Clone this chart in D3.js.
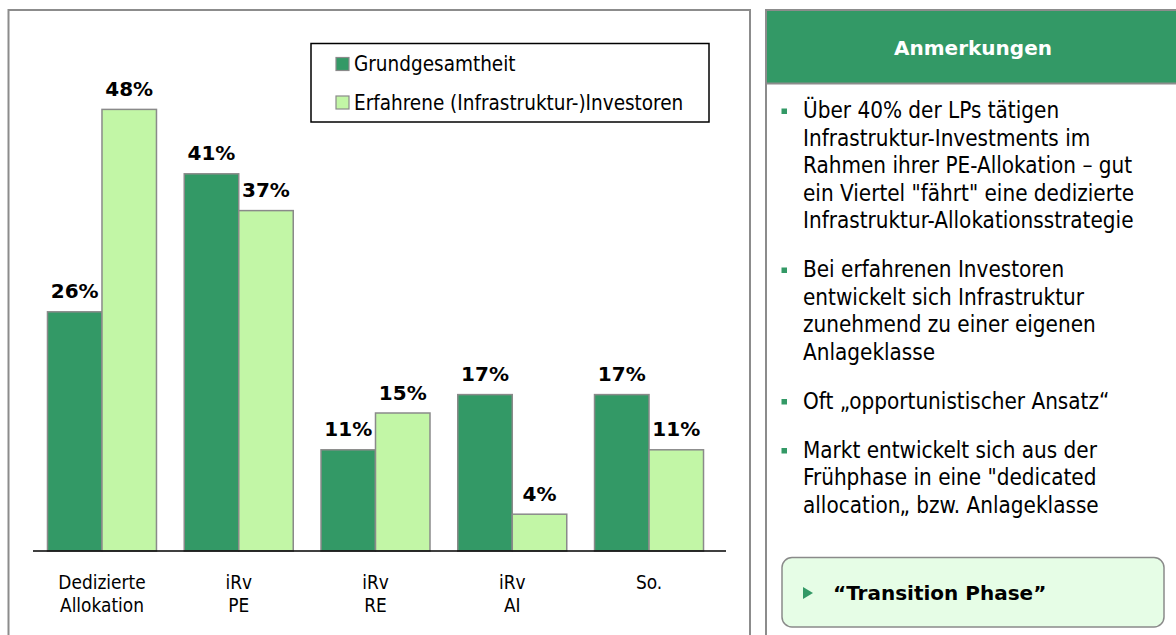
<!DOCTYPE html>
<html>
<head>
<meta charset="utf-8">
<script src="https://cdn.jsdelivr.net/npm/d3@7"></script>
<style>
  html, body { margin: 0; padding: 0; background: #fff; }
  svg { display: block; }
</style>
</head>
<body>
<svg id="chart" width="1176" height="635"></svg>
<script>
// ---- data ----
const categories = ["Dedizierte Allokation", "iRv PE", "iRv RE", "iRv AI", "So."];
const categoryLines = [["Dedizierte", "Allokation"], ["iRv", "PE"], ["iRv", "RE"], ["iRv", "AI"], ["So."]];
const seriesNames = ["Grundgesamtheit", "Erfahrene (Infrastruktur-)Investoren"];
const grundgesamtheit = [26, 41, 11, 17, 17];
const erfahrene = [48, 37, 15, 4, 11];
const notesTitle = "Anmerkungen";
const notes = [
  ["Über 40% der LPs tätigen", "Infrastruktur-Investments im", "Rahmen ihrer PE-Allokation – gut", "ein Viertel \"fährt\" eine dedizierte", "Infrastruktur-Allokationsstrategie"],
  ["Bei erfahrenen Investoren", "entwickelt sich Infrastruktur", "zunehmend zu einer eigenen", "Anlageklasse"],
  ["Oft „opportunistischer Ansatz“"],
  ["Markt entwickelt sich aus der", "Frühphase in eine \"dedicated", "allocation„ bzw. Anlageklasse"]
];
const conclusion = "“Transition Phase”";

// ---- style ----
const darkGreen = "#339966";
const lightGreen = "#c2f6a6";
const barStroke = "#8a8a8a";
const panelStroke = "#8c8c8c";
const condensed = "'DejaVu Sans Condensed', 'DejaVu Sans', sans-serif";
const regular = "'DejaVu Sans', sans-serif";

const svg = d3.select("#chart");

// ---- panels ----
svg.append("rect").attr("x", 8.5).attr("y", 10).attr("width", 741.5).attr("height", 640)
  .attr("fill", "#fff").attr("stroke", panelStroke).attr("stroke-width", 2);
svg.append("rect").attr("x", 766).attr("y", 10).attr("width", 420).attr("height", 640)
  .attr("fill", "#fff").attr("stroke", panelStroke).attr("stroke-width", 2);
svg.append("rect").attr("x", 766).attr("y", 10).attr("width", 420).attr("height", 73.5)
  .attr("fill", darkGreen).attr("stroke", panelStroke).attr("stroke-width", 2);
svg.append("text").attr("x", 973).attr("y", 55).attr("text-anchor", "middle")
  .attr("font-family", regular).attr("font-weight", "bold").attr("font-size", 20)
  .attr("fill", "#fff").text(notesTitle);

// ---- chart ----
const x0 = d3.scaleBand().domain(categories).range([33.6, 717.4]).paddingInner(0.203).paddingOuter(0.1015);
const x1 = d3.scaleBand().domain(seriesNames).range([0, x0.bandwidth()]);
const y = d3.scaleLinear().domain([0, 50]).range([551, 91]);

const data = categories.map((c, i) => ({ cat: c, vals: [grundgesamtheit[i], erfahrene[i]] }));
const colors = [darkGreen, lightGreen];

const groups = svg.append("g").selectAll("g").data(data).join("g")
  .attr("transform", d => `translate(${x0(d.cat)},0)`);

groups.selectAll("rect").data(d => d.vals.map((v, j) => ({ v, j }))).join("rect")
  .attr("x", d => x1(seriesNames[d.j]))
  .attr("y", d => y(d.v))
  .attr("width", x1.bandwidth())
  .attr("height", d => y(0) - y(d.v))
  .attr("fill", d => colors[d.j])
  .attr("stroke", barStroke).attr("stroke-width", 1.5);

groups.selectAll("text.val").data(d => d.vals.map((v, j) => ({ v, j }))).join("text")
  .attr("class", "val")
  .attr("x", d => x1(seriesNames[d.j]) + x1.bandwidth() / 2)
  .attr("y", d => y(d.v) - 13.5)
  .attr("text-anchor", "middle")
  .attr("font-family", regular).attr("font-weight", "bold").attr("font-size", 20)
  .attr("fill", "#000")
  .text(d => d.v + "%");

// baseline
svg.append("line").attr("x1", 33).attr("x2", 726).attr("y1", y(0)).attr("y2", y(0))
  .attr("stroke", "#000").attr("stroke-width", 1.5);

// category labels
const xAxis = d3.axisBottom(x0).tickSize(0).tickFormat("");
const axisG = svg.append("g").attr("transform", `translate(0,${y(0)})`).call(xAxis);
axisG.select(".domain").remove();
axisG.selectAll(".tick").each(function(d, i) {
  const t = d3.select(this).append("text")
    .attr("transform", "scale(0.97,1)")
    .attr("text-anchor", "middle")
    .attr("font-family", condensed).attr("font-size", 19.5).attr("fill", "#000");
  categoryLines[i].forEach((line, k) => {
    t.append("tspan").attr("x", 0).attr("y", 38.5 + k * 23).text(line);
  });
});

// legend
const lg = svg.append("g");
lg.append("rect").attr("x", 311).attr("y", 43.5).attr("width", 398).attr("height", 78.5)
  .attr("fill", "#fff").attr("stroke", "#000").attr("stroke-width", 1.5);
seriesNames.forEach((name, i) => {
  const yy = 57.5 + i * 38.5;
  lg.append("rect").attr("x", 336).attr("y", yy).attr("width", 13).attr("height", 13)
    .attr("fill", colors[i]).attr("stroke", barStroke).attr("stroke-width", 1.2);
  lg.append("text").attr("x", 354).attr("y", yy + 13.5)
    .attr("font-family", condensed).attr("font-size", 20.5).attr("fill", "#000").text(name);
});

// ---- notes ----
const notesG = svg.append("g");
let baseY = 118;
notes.forEach((para, pi) => {
  notesG.append("rect").attr("x", 781.5).attr("y", baseY - 9.5).attr("width", 5.5).attr("height", 5.5)
    .attr("fill", darkGreen);
  para.forEach((line, li) => {
    notesG.append("text").attr("x", 803).attr("y", baseY + li * 27.5)
      .attr("font-family", condensed).attr("font-size", 22.3).attr("fill", "#000").text(line);
  });
  baseY += (para.length - 1) * 27.5 + 49;
});

// conclusion box
svg.append("rect").attr("x", 782).attr("y", 557.5).attr("width", 382).attr("height", 69.5)
  .attr("rx", 10).attr("ry", 10)
  .attr("fill", "#e6fde6").attr("stroke", "#8a8a8a").attr("stroke-width", 1.5);
svg.append("path").attr("d", "M803,587 L813,593 L803,599 Z").attr("fill", darkGreen);
svg.append("text").attr("x", 833).attr("y", 600)
  .attr("font-family", regular).attr("font-weight", "bold").attr("font-size", 20)
  .attr("fill", "#000").text(conclusion);
</script>
</body>
</html>
